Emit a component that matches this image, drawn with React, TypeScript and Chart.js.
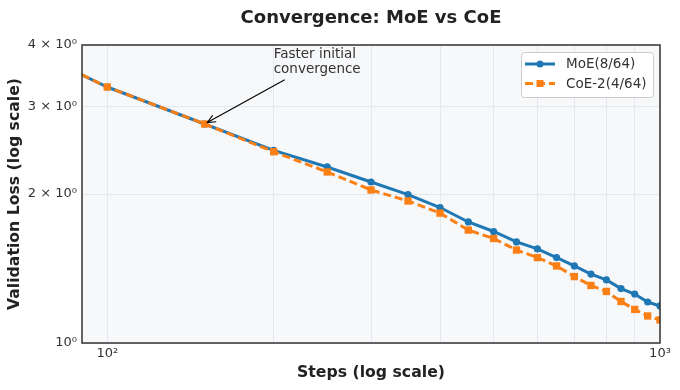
import React, { useEffect, useRef } from 'react';
import { Chart, registerables } from 'chart.js';

Chart.register(...registerables);

// ---------------- data ----------------
const steps = [90, 100, 150, 200, 250, 300, 350, 400, 450, 500, 550, 600, 650, 700, 750, 800, 850, 900, 950, 1000];
const moeLoss = [3.48, 3.29, 2.77, 2.45, 2.268, 2.115, 1.995, 1.878, 1.756, 1.68, 1.6, 1.549, 1.488, 1.431, 1.378, 1.341, 1.288, 1.256, 1.21, 1.188];
const coeLoss = [3.48, 3.29, 2.77, 2.435, 2.216, 2.038, 1.936, 1.83, 1.691, 1.626, 1.541, 1.488, 1.431, 1.362, 1.307, 1.271, 1.213, 1.169, 1.134, 1.113];
const seriesNames = ['MoE(8/64)', 'CoE-2(4/64)'];

const xTickValues = [100, 200, 300, 400, 500, 600, 700, 800, 900, 1000];
const xTickLabels: Record<number, string> = { 100: '10²', 1000: '10³' };
const yTickValues = [1, 2, 3, 4];
const yTickLabels: Record<number, string> = { 1: '10⁰', 2: '2 × 10⁰', 3: '3 × 10⁰', 4: '4 × 10⁰' };

const titleText = 'Convergence: MoE vs CoE';
const xTitle = 'Steps (log scale)';
const yTitle = 'Validation Loss (log scale)';
const annotationLines = ['Faster initial', 'convergence'];
const annotationTarget = { x: 150, y: 2.77 };
const annotationTextAt = { x: 200, y: 3.7 };

const FONT = "'DejaVu Sans', sans-serif";
const BLUE = '#1f77b4';
const ORANGE = '#fa7f14';

const bgPlugin = {
  id: 'bgPlugin',
  beforeDraw(chart: any) {
    const { ctx, chartArea: a } = chart;
    ctx.save();
    ctx.fillStyle = '#ffffff';
    ctx.fillRect(0, 0, chart.width, chart.height);
    ctx.fillStyle = '#f7f8fa';
    ctx.fillRect(a.left, a.top, a.right - a.left, a.bottom - a.top);
    ctx.restore();
  },
};

const framePlugin = {
  id: 'framePlugin',
  afterDatasetsDraw(chart: any) {
    const { ctx, chartArea: a } = chart;
    ctx.save();
    ctx.strokeStyle = '#333333';
    ctx.lineWidth = 1.5;
    ctx.strokeRect(a.left, a.top, a.right - a.left, a.bottom - a.top);
    ctx.restore();
  },
};

const annotationPlugin = {
  id: 'annotationPlugin',
  afterDatasetsDraw(chart: any) {
    const { ctx } = chart;
    const xs = chart.scales.x;
    const ys = chart.scales.y;
    const tx = xs.getPixelForValue(annotationTarget.x);
    const ty = ys.getPixelForValue(annotationTarget.y);
    const px = xs.getPixelForValue(annotationTextAt.x);
    const py = ys.getPixelForValue(annotationTextAt.y);
    ctx.save();
    ctx.font = `13.5px ${FONT}`;
    ctx.fillStyle = '#333333';
    ctx.textAlign = 'left';
    ctx.textBaseline = 'middle';
    const lineH = 15.5;
    let maxW = 0;
    annotationLines.forEach((t, i) => {
      const w = ctx.measureText(t).width;
      maxW = Math.max(maxW, w);
      ctx.fillText(t, px, py - lineH / 2 + i * lineH);
    });
    const halfW = maxW / 2 + 2;
    const halfH = lineH + 1;
    const cx = px + maxW / 2;
    const cy = py;
    const dx = tx - cx;
    const dy = ty - cy;
    const len = Math.hypot(dx, dy);
    const ux = dx / len;
    const uy = dy / len;
    const tExit = Math.min(halfW / Math.abs(dx), halfH / Math.abs(dy));
    const sx = cx + dx * tExit + ux * 3;
    const sy = cy + dy * tExit + uy * 3;
    const ex = tx - ux * 3;
    const ey = ty - uy * 3;
    ctx.strokeStyle = '#000000';
    ctx.lineWidth = 1.1;
    ctx.beginPath();
    ctx.moveTo(sx, sy);
    ctx.lineTo(ex, ey);
    const ang = Math.atan2(uy, ux);
    const head = 9;
    const spread = 0.42;
    ctx.moveTo(ex - head * Math.cos(ang - spread), ey - head * Math.sin(ang - spread));
    ctx.lineTo(ex, ey);
    ctx.lineTo(ex - head * Math.cos(ang + spread), ey - head * Math.sin(ang + spread));
    ctx.stroke();
    ctx.restore();
  },
};

const legendPlugin = {
  id: 'customLegend',
  afterDraw(chart: any) {
    const { ctx, chartArea: a } = chart;
    const x0 = a.right - 139;
    const y0 = a.top + 7;
    const w = 132;
    const h = 45;
    ctx.save();
    ctx.beginPath();
    ctx.roundRect(x0 + 0.5, y0 + 0.5, w, h, 3);
    ctx.fillStyle = 'rgba(255,255,255,0.9)';
    ctx.fill();
    ctx.strokeStyle = '#cccccc';
    ctx.lineWidth = 1;
    ctx.stroke();
    chart.data.datasets.forEach((ds: any, i: number) => {
      const y = y0 + 12 + i * 19.5;
      ctx.save();
      ctx.strokeStyle = ds.borderColor;
      ctx.lineWidth = ds.borderWidth;
      ctx.setLineDash(ds.borderDash || []);
      ctx.beginPath();
      ctx.moveTo(x0 + 4, y);
      ctx.lineTo(x0 + 34, y);
      ctx.stroke();
      ctx.restore();
      ctx.fillStyle = ds.pointBackgroundColor;
      if (ds.pointStyle === 'rect') {
        ctx.fillRect(x0 + 19 - 3.5, y - 3.5, 7, 7);
      } else {
        ctx.beginPath();
        ctx.arc(x0 + 19, y, 3.5, 0, Math.PI * 2);
        ctx.fill();
      }
      ctx.fillStyle = '#333333';
      ctx.font = `13.5px ${FONT}`;
      ctx.textAlign = 'left';
      ctx.textBaseline = 'middle';
      ctx.fillText(ds.label, x0 + 45, y + 0.5);
    });
    ctx.restore();
  },
};

export default function App() {
  const canvasRef = useRef<HTMLCanvasElement | null>(null);

  useEffect(() => {
    document.body.style.margin = '0';
    const canvas = canvasRef.current;
    if (!canvas) return;
    const toPoints = (ys: number[]) => steps.map((s, i) => ({ x: s, y: ys[i] }));
    const radius = (r: number) => (c: any) => (c.dataIndex === 0 ? 0 : r);

    const chart = new Chart(canvas, {
      type: 'line',
      data: {
        datasets: [
          {
            label: seriesNames[0],
            data: toPoints(moeLoss),
            borderColor: BLUE,
            backgroundColor: BLUE,
            pointBackgroundColor: BLUE,
            pointBorderColor: BLUE,
            borderWidth: 3,
            pointStyle: 'circle',
            pointRadius: radius(3.6),
            pointBorderWidth: 0,
            tension: 0,
            order: 1,
          },
          {
            label: seriesNames[1],
            data: toPoints(coeLoss),
            borderColor: ORANGE,
            backgroundColor: ORANGE,
            pointBackgroundColor: ORANGE,
            pointBorderColor: ORANGE,
            borderWidth: 3,
            borderDash: [8, 4],
            pointStyle: 'rect',
            pointRadius: radius(5.2),
            pointBorderWidth: 0,
            tension: 0,
            order: 0,
          },
        ],
      },
      options: {
        responsive: false,
        animation: false,
        devicePixelRatio: 1,
        layout: { padding: { top: 0, right: 20, bottom: 0, left: 0 } },
        plugins: {
          legend: { display: false },
          tooltip: { enabled: false },
          title: {
            display: true,
            text: titleText,
            fullSize: false,
            color: '#222222',
            font: { family: FONT, size: 18, weight: 'bold' },
            padding: { top: 7.5, bottom: 15.9 },
          },
        },
        scales: {
          x: {
            type: 'logarithmic',
            min: 90,
            max: 1000,
            afterBuildTicks: (s: any) => {
              s.ticks = xTickValues.map((v) => ({ value: v }));
            },
            afterFit: (s: any) => {
              s.height = 47;
            },
            ticks: {
              autoSkip: false,
              maxRotation: 0,
              padding: 3,
              color: '#333333',
              font: { family: FONT, size: 13 },
              callback: (v: any) => xTickLabels[Number(v)] ?? '',
            },
            grid: { color: '#e4e7eb', lineWidth: 1, drawTicks: false },
            border: { display: false },
            title: {
              display: true,
              text: xTitle,
              color: '#222222',
              font: { family: FONT, size: 15.7, weight: 'bold' },
              padding: { top: 4, bottom: 7.6 },
            },
          },
          y: {
            type: 'logarithmic',
            min: 1,
            max: 4,
            afterBuildTicks: (s: any) => {
              s.ticks = yTickValues.map((v) => ({ value: v }));
            },
            afterFit: (s: any) => {
              s.width = 82;
            },
            ticks: {
              autoSkip: false,
              padding: 5,
              color: '#333333',
              font: { family: FONT, size: 13 },
              callback: (v: any) => yTickLabels[Number(v)] ?? '',
            },
            grid: { color: '#e4e7eb', lineWidth: 1, drawTicks: false },
            border: { display: false },
            title: {
              display: true,
              text: yTitle,
              color: '#222222',
              font: { family: FONT, size: 15.7, weight: 'bold' },
              padding: { top: 5.6, bottom: 4 },
            },
          },
        },
      },
      plugins: [bgPlugin, framePlugin, annotationPlugin, legendPlugin],
    } as any);

    return () => chart.destroy();
  }, []);

  return (
    <div style={{ width: 680, height: 390 }}>
      <canvas ref={canvasRef} width={680} height={390} style={{ display: 'block' }} />
    </div>
  );
}
